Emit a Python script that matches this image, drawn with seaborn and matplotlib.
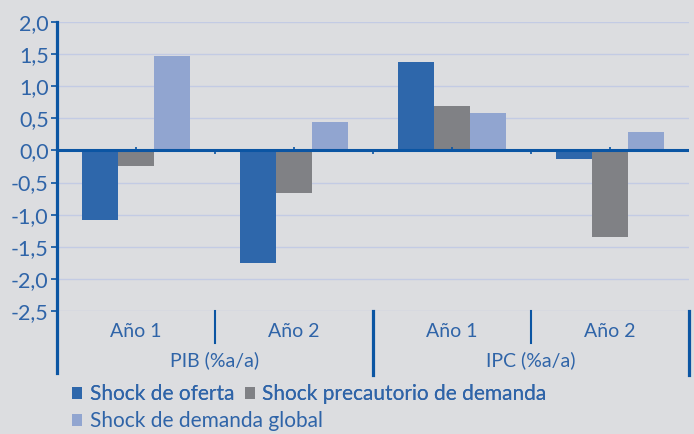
import pandas as pd
import matplotlib.pyplot as plt
import seaborn as sns

# data
groups = ["PIB (%a/a)", "IPC (%a/a)"]
years = ["Año 1", "Año 2"]
series = ["Shock de oferta", "Shock precautorio de demanda", "Shock de demanda global"]
oferta = [-1.08, -1.75, 1.37, -0.13]
precautorio = [-0.24, -0.66, 0.69, -1.35]
demanda_global = [1.47, 0.45, 0.58, 0.28]
yticks = [2.0, 1.5, 1.0, 0.5, 0.0, -0.5, -1.0, -1.5, -2.0, -2.5]

BG = "#dcdde0"
TXT = "#2f64a8"
AXC = "#0b55a3"
GRID = "#c3cbe4"
COLORS = ["#2e67ab", "#808185", "#91a5d0"]


def main():
    cats = [g + " " + y for g in groups for y in years]
    rows = []
    for name, vals in zip(series, [oferta, precautorio, demanda_global]):
        for c, v in zip(cats, vals):
            rows.append({"cat": c, "serie": name, "valor": v})
    df = pd.DataFrame(rows)

    plt.rcParams["font.family"] = ["Lato", "DejaVu Sans"]
    fig = plt.figure(figsize=(6.94, 4.34), dpi=100, facecolor=BG)
    ax = fig.add_axes([57 / 694, 1 - 311 / 434, 632 / 694, 289 / 434])
    ax.set_facecolor(BG)

    sns.barplot(data=df, x="cat", y="valor", hue="serie", order=cats,
                hue_order=series, palette=COLORS, width=0.684, gap=0,
                saturation=1, errorbar=None, ax=ax, zorder=3)

    ax.set_xlim(-0.5, 3.5)
    ax.set_ylim(-2.5, 2.0)
    ax.set_yticks(yticks)
    ax.set_yticklabels([f"{t:.1f}".replace(".", ",") for t in yticks])
    ax.tick_params(axis="y", colors=AXC, labelcolor=TXT, labelsize=15.5,
                   length=4, width=1.2, pad=2)
    ax.set_xticks([])
    ax.set_xlabel("")
    ax.set_ylabel("")
    for t in yticks:
        ax.axhline(t, color=GRID, lw=1.0, zorder=1)
    ax.axhline(0, color=AXC, lw=2.2, zorder=4)
    for s in ax.spines.values():
        s.set_visible(False)

    # left spine running down through the label area
    ax.plot([0, 0], [1, -0.215], transform=ax.transAxes, color=AXC,
            lw=2.3, clip_on=False, zorder=5)

    # small marks on the zero line
    ax.vlines([0, 1, 2, 3], 0, 0.05, color=AXC, lw=1.2, zorder=4)
    ax.vlines([0.5, 1.5, 2.5], -0.05, 0, color=AXC, lw=1.2, zorder=4)

    # two level category axis
    trans = ax.get_xaxis_transform()
    for i, c in enumerate(cats):
        ax.text(i, -0.072, years[i % 2], transform=trans, ha="center",
                va="center", color=TXT, fontsize=14)
    for j, g in enumerate(groups):
        ax.text(2 * j + 0.5, -0.17, g, transform=trans, ha="center",
                va="center", color=TXT, fontsize=14)
    for x in [0.5, 2.5]:
        ax.plot([x, x], [0, -0.11], transform=trans, color=AXC, lw=1.5,
                clip_on=False)
    for x in [1.5, 3.5]:
        ax.plot([x, x], [0, -0.22], transform=trans, color=AXC, lw=2.3,
                clip_on=False)

    handles, labels = ax.get_legend_handles_labels()
    ax.get_legend().remove()
    leg_kw = dict(loc="upper left", frameon=False, fontsize=15,
                  labelcolor=TXT, handlelength=0.5, handleheight=0.5,
                  handletextpad=0.35, columnspacing=0.5, borderaxespad=0,
                  borderpad=0)
    leg1 = fig.legend(handles[:2], labels[:2], ncol=2,
                      bbox_to_anchor=(72 / 694, 1 - 384 / 434), **leg_kw)
    fig.add_artist(leg1)
    fig.legend(handles[2:], labels[2:], ncol=1,
               bbox_to_anchor=(72 / 694, 1 - 411 / 434), **leg_kw)

    fig.savefig("out.png", dpi=100, facecolor=BG)
    plt.close(fig)


if __name__ == "__main__":
    main()
